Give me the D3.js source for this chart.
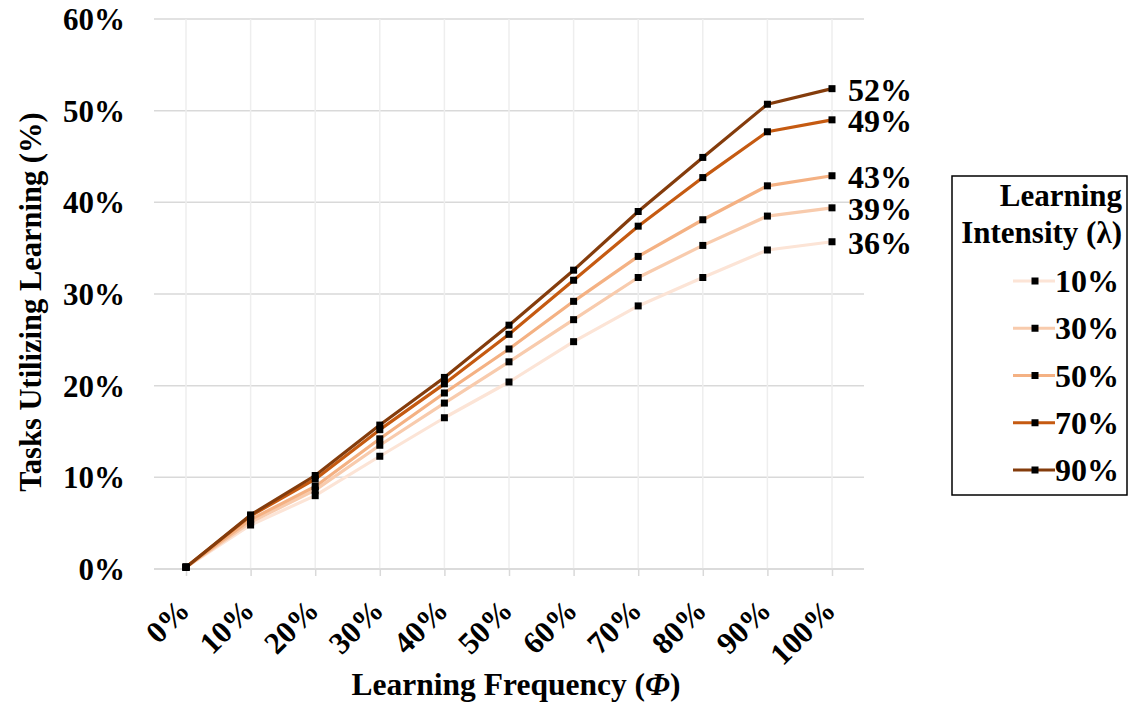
<!DOCTYPE html>
<html><head><meta charset="utf-8">
<script src="https://cdn.jsdelivr.net/npm/d3@7"></script>
<style>body{margin:0;background:#fff}text{font-family:"Liberation Serif","Times New Roman",serif;font-weight:bold;fill:#000}</style>
</head><body><svg id="c" width="1130" height="704"></svg>
<script>
const categories = ["0%","10%","20%","30%","40%","50%","60%","70%","80%","90%","100%"];
const seriesNames = ["10%","30%","50%","70%","90%"];
const l10 = [0.2, 4.8, 8.0, 12.3, 16.5, 20.4, 24.8, 28.7, 31.8, 34.8, 35.7];
const l30 = [0.2, 5.1, 8.6, 13.5, 18.1, 22.6, 27.2, 31.8, 35.3, 38.5, 39.4];
const l50 = [0.2, 5.4, 9.0, 14.2, 19.2, 24.0, 29.2, 34.1, 38.1, 41.8, 42.9];
const l70 = [0.2, 5.8, 9.8, 15.2, 20.2, 25.6, 31.5, 37.4, 42.7, 47.7, 49.0];
const l90 = [0.2, 5.9, 10.2, 15.7, 20.9, 26.6, 32.6, 39.0, 44.9, 50.7, 52.4];
const endLabels = ["36%","39%","43%","49%","52%"];
const yTicks = [0, 10, 20, 30, 40, 50, 60];
const colors = ["#fce4d6","#f8cbad","#f4b183","#c55a11","#843c0c"];
const seriesData = [l10, l30, l50, l70, l90];

const FONT = "'Liberation Serif','Times New Roman',serif";
const svg = d3.select("#c");
const x = d3.scalePoint().domain(categories).range([186, 832]);
const y = d3.scaleLinear().domain([0, 60]).range([569, 19]);

// horizontal gridlines
svg.append("g").selectAll("line").data(yTicks).join("line")
  .attr("x1", 154).attr("x2", 864).attr("y1", d => y(d)).attr("y2", d => y(d))
  .attr("stroke", "#d9d9d9").attr("stroke-width", 1.5);
// vertical gridlines
svg.append("g").selectAll("line").data(categories).join("line")
  .attr("x1", d => x(d)).attr("x2", d => x(d)).attr("y1", y(60)).attr("y2", y(0))
  .attr("stroke", "#eeeeee").attr("stroke-width", 1.5);

// y axis labels
const ya = svg.append("g").attr("transform", "translate(125,0)")
  .call(d3.axisLeft(y).tickValues(yTicks).tickFormat(d => d + "%").tickSize(0).tickPadding(0));
ya.select(".domain").remove();
ya.selectAll("text").attr("font-size", 31).attr("dy", "0.34em")
  .style("font-family", FONT).style("font-weight", "bold");

// x axis
const xa = svg.append("g").attr("transform", "translate(0," + y(0) + ")")
  .call(d3.axisBottom(x).tickSize(7).tickPadding(6));
xa.select(".domain").attr("d", "M154,0H864").attr("stroke", "#d9d9d9").attr("stroke-width", 1.5);
xa.selectAll(".tick line").attr("stroke", "#d9d9d9").attr("stroke-width", 1.5);
xa.selectAll("text").attr("font-size", 31)
  .style("font-family", FONT).style("font-weight", "bold")
  .attr("text-anchor", "end").attr("dy", 0)
  .attr("transform", "translate(5,43) rotate(-45)").attr("x", 0).attr("y", 0);

// lines
const line = d3.line().x((d, i) => x(categories[i])).y(d => y(d));
seriesData.forEach((s, k) => {
  svg.append("path").datum(s).attr("d", line).attr("fill", "none")
    .attr("stroke", colors[k]).attr("stroke-width", 3.2).attr("stroke-linejoin", "round");
});
seriesData.forEach((s, k) => {
  svg.append("g").selectAll("rect").data(s).join("rect")
    .attr("x", (d, i) => x(categories[i]) - 3.5).attr("y", d => y(d) - 3.5)
    .attr("width", 7).attr("height", 7).attr("fill", "#000");
});
// end labels
seriesData.forEach((s, k) => {
  svg.append("text").attr("x", 848).attr("y", y(s[s.length - 1]) + 1).attr("dy", "0.35em")
    .attr("font-size", 32).text(endLabels[k]);
});

// axis titles
svg.append("text").attr("transform", "translate(41,302) rotate(-90)").attr("text-anchor", "middle")
  .attr("font-size", 30.5).text("Tasks Utilizing Learning (%)");
const xt = svg.append("text").attr("x", 516).attr("y", 695).attr("text-anchor", "middle").attr("font-size", 31.5);
xt.append("tspan").text("Learning Frequency (");
xt.append("tspan").attr("font-style", "italic").text("Φ");
xt.append("tspan").text(")");

// legend
const lg = svg.append("g");
lg.append("rect").attr("x", 952).attr("y", 176).attr("width", 175).attr("height", 319)
  .attr("fill", "#fff").attr("stroke", "#000").attr("stroke-width", 1.5);
lg.append("text").attr("x", 1122).attr("y", 206).attr("text-anchor", "end").attr("font-size", 31).text("Learning");
lg.append("text").attr("x", 1122).attr("y", 243).attr("text-anchor", "end").attr("font-size", 31).text("Intensity (λ)");
const ly = d3.scalePoint().domain(seriesNames).range([281, 470]);
seriesNames.forEach((n, k) => {
  const yy = ly(n);
  lg.append("line").attr("x1", 1013).attr("x2", 1055).attr("y1", yy).attr("y2", yy)
    .attr("stroke", colors[k]).attr("stroke-width", 3.2);
  lg.append("rect").attr("x", 1031.5).attr("y", yy - 3.5).attr("width", 7).attr("height", 7).attr("fill", "#000");
  lg.append("text").attr("x", 1055).attr("y", yy).attr("dy", "0.35em").attr("font-size", 32).text(n);
});
</script></body></html>
